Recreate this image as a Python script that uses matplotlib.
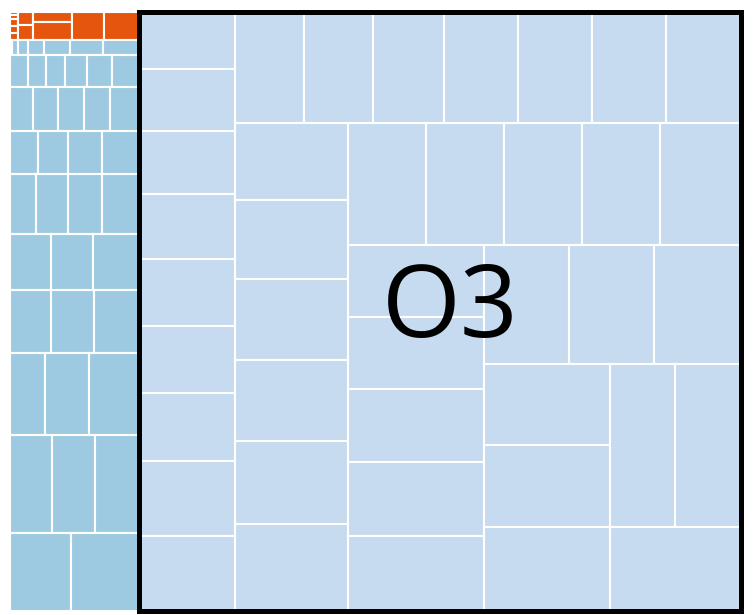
import matplotlib
matplotlib.use("Agg")
import matplotlib.pyplot as plt
from matplotlib.patches import Rectangle

# leaf values of each group, listed row by row (smallest first)
orange_rows = [[29, 31, 51, 52, 54], [203, 228], [410, 690], [902], [1001]]
blue_rows = [
    [30, 88, 151, 245, 393, 498, 551],
    [570, 576, 614, 698, 806, 880],
    [1010, 1100, 1140, 1150, 1305],
    [1197, 1287, 1459, 1613],
    [1549, 1914, 2033, 2248],
    [2299, 2360, 2619],
    [2577, 2709, 2873],
    [2862, 3608, 4149],
    [4110, 4218, 4375],
    [4750, 5351],
]
o3_rows = [
    [5491, 5921, 6017, 6255, 6351, 6399, 6494, 7163, 7163],
    [7694, 7749, 7861, 8251, 8251, 8251, 8418],
    [8678, 9006, 9097, 9153, 9379, 9831],
    [9477, 9477, 9477, 9441, 9939],
    [9792, 9792, 9996, 10064, 10200],
    [10158, 10158, 10456],
    [10206, 10332, 10584],
    [10595, 10840],
    [11046],
]
group_names = ["O1", "O2", "O3"]
group_colors = ["#e6550d", "#9ecae1", "#c6dbef"]
highlight = "O3"


def layout(rows, x0, y0, x1, y1):
    # squarify-style placement of already grouped rows
    total = float(sum(sum(r) for r in rows))
    out = []
    for i, row in enumerate(rows):
        s = float(sum(row))
        dx, dy = x1 - x0, y1 - y0
        last = i == len(rows) - 1
        if last:
            across = dx > dy
            ry0, ry1, rx0, rx1 = y0, y1, x0, x1
        else:
            across = dx < dy
            if across:
                rx0, rx1, ry0, ry1 = x0, x1, y0, y0 + dy * s / total
                y0 = ry1
            else:
                rx0, rx1, ry0, ry1 = x0, x0 + dx * s / total, y0, y1
                x0 = rx1
        pos = rx0 if across else ry0
        for v in row:
            if across:
                w = (rx1 - rx0) * v / s
                out.append((pos, ry0, pos + w, ry1))
            else:
                w = (ry1 - ry0) * v / s
                out.append((rx0, pos, rx1, pos + w))
            pos += w
        total -= s
    return out


groups = [orange_rows, blue_rows, o3_rows]
sums = [sum(sum(r) for r in g) for g in groups]

fig = plt.figure(figsize=(7.53, 6.15), dpi=100)
ax = fig.add_axes([0, 0, 1, 1])
ax.set_xlim(0, 753)
ax.set_ylim(615, 0)
ax.axis("off")

top = layout([[sums[0], sums[1]], [sums[2]]], 10, 11.5, 741.5, 611)

for name, rows, color, box in zip(group_names, groups, group_colors, top):
    for (a, b, c, d) in layout(rows, *box):
        ax.add_patch(Rectangle((a, b), c - a, d - b, facecolor=color,
                               edgecolor="white", linewidth=1.5))
    if name == highlight:
        a, b, c, d = box
        ax.add_patch(Rectangle((a, b), c - a, d - b, fill=False,
                               edgecolor="black", linewidth=3.6, zorder=5))
        ax.text((a + c) / 2 + 10, (b + d) / 2, name, fontsize=73,
                family=["Open Sans", "DejaVu Sans"], ha="center", va="center",
                zorder=6)

fig.savefig("out.png", dpi=100)
